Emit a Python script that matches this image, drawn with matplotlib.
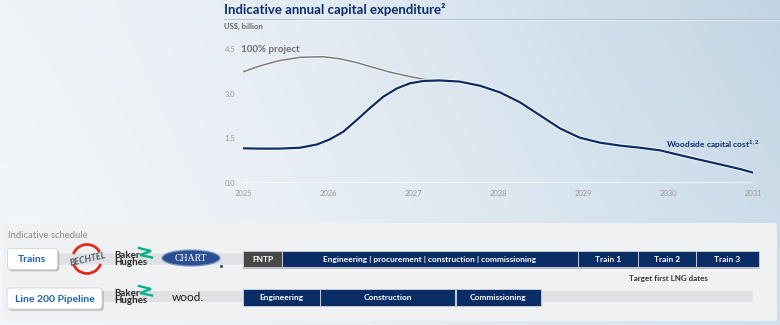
import numpy as np
import matplotlib.pyplot as plt
import matplotlib.patheffects as pe
from matplotlib.patches import FancyBboxPatch, Ellipse, Arc
from matplotlib.colors import to_rgb

plt.rcParams['font.family'] = ['Lato', 'DejaVu Sans']
plt.rcParams['mathtext.fontset'] = 'custom'
plt.rcParams['mathtext.rm'] = 'Lato:bold'
plt.rcParams['mathtext.bf'] = 'Lato:bold'

# Annual capital expenditure, US$ billion
woodside_years = [2025.0, 2025.2, 2025.43, 2025.67, 2025.87, 2026.02, 2026.18, 2026.34,
                  2026.49, 2026.65, 2026.81, 2026.96, 2027.12, 2027.31, 2027.55, 2027.79,
                  2028.02, 2028.26, 2028.49, 2028.73, 2028.96, 2029.2, 2029.44, 2029.67,
                  2029.91, 2030.14, 2030.38, 2030.61, 2030.85, 2031.0]
woodside_capex = [1.16, 1.15, 1.15, 1.18, 1.29, 1.46, 1.72, 2.12,
                  2.51, 2.90, 3.18, 3.35, 3.43, 3.45, 3.41, 3.27,
                  3.05, 2.71, 2.28, 1.83, 1.52, 1.35, 1.25, 1.18,
                  1.09, 0.93, 0.77, 0.62, 0.46, 0.34]
project_years = [2025.0, 2025.2, 2025.43, 2025.67, 2025.94, 2026.14, 2026.34, 2026.53,
                 2026.73, 2026.93, 2027.12, 2027.31]
project_capex = [3.74, 3.94, 4.12, 4.23, 4.25, 4.18, 4.05, 3.89,
                 3.73, 3.60, 3.49, 3.45]

year_ticks = [2025, 2026, 2027, 2028, 2029, 2030, 2031]
capex_ticks = [0.0, 1.5, 3.0, 4.5]

# Indicative schedule (fractional years)
train_phases = ["FNTP", "Engineering | procurement | construction | commissioning",
                "Train 1", "Train 2", "Train 3"]
train_start = [2025.0, 2025.46, 2028.94, 2029.65, 2030.33]
train_end = [2025.46, 2028.94, 2029.65, 2030.33, 2031.07]
pipeline_phases = ["Engineering", "Construction", "Commissioning"]
pipeline_start = [2025.0, 2025.9, 2027.5]
pipeline_end = [2025.9, 2027.5, 2028.5]

NAVY = '#0b2d66'
W, H = 780, 325

fig = plt.figure(figsize=(7.8, 3.25), dpi=100)

# --- background layer, pixel coordinates ---
bg = fig.add_axes([0, 0, 1, 1], zorder=0)
bg.set_xlim(0, W)
bg.set_ylim(H, 0)
bg.axis('off')

gx = np.linspace(0, 1, 300)[None, :, None]
gy = np.linspace(0, 1, 120)[:, None, None]
c_left = np.array(to_rgb('#eff3f8'))
c_right = np.array(to_rgb('#c2d5e4'))
t = gx ** 1.4
sky = c_left * (1 - t) + c_right * t
sky = sky + (1 - sky) * 0.25 * gy
bg.imshow(np.clip(sky, 0, 1), extent=(0, W, H, 0), aspect='auto', zorder=0)

# title block
bg.text(224, 10, "Indicative annual capital expenditure²", fontsize=9.5,
        fontweight='bold', color='#0a2d6e', va='center', ha='left')
bg.plot([224, W], [19, 19], color='#b5c4d2', lw=0.8)
bg.plot([224, W], [20, 20], color='white', lw=0.5, alpha=0.6)
bg.text(224, 26.7, "US$, billion", fontsize=5.5, fontweight='bold',
        color='#6b6b6b', va='center', ha='left')

# schedule panel
bg.add_patch(FancyBboxPatch((2, 223), 775, 98, boxstyle='round,pad=0,rounding_size=3',
                            fc='#f0f1f3', ec='none', zorder=1))
bg.text(8, 236, "Indicative schedule", fontsize=6.8, color='#8a8a8a',
        va='center', ha='left', zorder=3)

# grey tracks behind each row
bg.add_patch(FancyBboxPatch((56, 253.5), 697, 11, boxstyle='round,pad=0,rounding_size=2',
                            fc='#dfe1e5', ec='none', zorder=2))
bg.add_patch(FancyBboxPatch((100, 291), 653, 11, boxstyle='round,pad=0,rounding_size=2',
                            fc='#dfe1e5', ec='none', zorder=2))


def label_box(x0, y0, w, h, text):
    bg.add_patch(FancyBboxPatch((x0 + 1.8, y0 + 1.8), w, h,
                                boxstyle='round,pad=0,rounding_size=3',
                                fc='#a9a9a9', ec='none', alpha=0.7, zorder=3))
    bg.add_patch(FancyBboxPatch((x0, y0), w, h, boxstyle='round,pad=0,rounding_size=3',
                                fc='white', ec='#d4d4d4', lw=0.6, zorder=4))
    bg.text(x0 + w / 2, y0 + h / 2 + 0.5, text, fontsize=7.5, fontweight='bold',
            color='#1a63b8', ha='center', va='center', zorder=5)


label_box(7.5, 248.5, 50, 21, "Trains")
label_box(7, 288, 95, 21, "Line 200 Pipeline")


def baker_hughes(x, y):
    bg.text(x - 1, y + 0.5, "Baker\nHughes", fontsize=7, fontweight='bold', color='#262626',
            ha='left', va='center', linespacing=0.85, zorder=5)
    bg.plot([x + 24, x + 36, x + 25, x + 37], [y - 10.5, y - 7.5, y - 3.5, y - 1],
            color='#00b386', lw=1.7, solid_joinstyle='miter', zorder=5)


# Bechtel
bg.add_patch(Arc((87, 259), 29, 29, theta1=200, theta2=330,
                 color='#e4291f', lw=2.0, zorder=5))
bg.add_patch(Arc((87, 259), 29, 29, theta1=20, theta2=160,
                 color='#e4291f', lw=2.0, zorder=5))
bg.text(88, 259.5, "BECHTEL", fontsize=6.5, fontweight='bold', fontstyle='italic',
        color='#4e5d6c', rotation=13, ha='center', va='center', zorder=6)

baker_hughes(115, 258.5)
baker_hughes(115, 296.5)

# Chart
bg.add_patch(Ellipse((191, 258), 58, 16, fc='#2b4f92', ec='#7d95c0', lw=0.9, zorder=5))
bg.text(191, 258.5, "CHART", fontsize=7, color='white', family='Liberation Serif',
        ha='center', va='center', zorder=6)
bg.plot([220.5], [266], marker='o', ms=1.2, color='#2b4f92', zorder=6)

# Wood
bg.text(172, 297.5, "wood.", fontsize=8.5, color='#1f1f1f', ha='left', va='center', zorder=5)

# --- capex chart ---
y0_px, y45_px = 182.7, 49.3
ax = fig.add_axes([243 / W, 1 - y0_px / H, 510 / W, (y0_px - y45_px) / H], zorder=2)
ax.patch.set_alpha(0)
ax.set_xlim(2025, 2031)
ax.set_ylim(0, 4.5)
for s in ax.spines.values():
    s.set_visible(False)
ax.axhline(0, color='white', lw=1.2, alpha=0.7)

ax.plot(project_years, project_capex, color='#7b7b7b', lw=1.1, solid_capstyle='round',
        solid_joinstyle='round',
        path_effects=[pe.Stroke(linewidth=2.2, foreground='white', alpha=0.8), pe.Normal()])
ax.plot(woodside_years, woodside_capex, color=NAVY, lw=1.6, solid_capstyle='round',
        solid_joinstyle='round',
        path_effects=[pe.Stroke(linewidth=2.8, foreground='white', alpha=0.9), pe.Normal()])

ax.set_xticks(year_ticks)
ax.set_xticklabels([str(y) for y in year_ticks])
ax.set_yticks(capex_ticks)
ax.set_yticklabels([f"{v:.1f}" for v in capex_ticks])
ax.tick_params(length=0, labelsize=5.5, labelcolor='#9a9a9a', pad=5.5)

ax.text(2024.98, 4.5, "100% project", fontsize=7, fontweight='bold', color='#6e6e6e',
        ha='left', va='center')
ax.text(2031.08, 1.29, r"Woodside capital cost$^{1,2}$", fontsize=6, fontweight='bold',
        color='#0a2d6e', ha='right', va='center')

# --- schedule bars ---
sc = fig.add_axes([243 / W, (H - 321) / H, 510 / W, 98 / H], zorder=3)
sc.set_xlim(2025, 2031)
sc.set_ylim(321, 223)
sc.axis('off')


def schedule_row(yc, names, starts, ends):
    for name, s, e in zip(names, starts, ends):
        color = '#484848' if name == "FNTP" else NAVY
        sc.barh(yc + 1.6, e - s, left=s, height=16.5, color='#8e8e8e', alpha=0.55,
                clip_on=False, zorder=1)
        sc.barh(yc, e - s, left=s, height=16.5, color=color, edgecolor='#c3cbd8',
                lw=0.7, clip_on=False, zorder=2)
        sc.text((s + e) / 2, yc + 0.3, name, fontsize=6, fontweight='bold',
                color='white', ha='center', va='center', zorder=3)


schedule_row(259, train_phases, train_start, train_end)
schedule_row(297.5, pipeline_phases, pipeline_start, pipeline_end)

sc.text((train_start[2] + train_end[-1]) / 2, 278, "Target first LNG dates", fontsize=5.8,
        fontweight='bold', color='#333333', ha='center', va='center')

fig.savefig("out.png", dpi=100)
